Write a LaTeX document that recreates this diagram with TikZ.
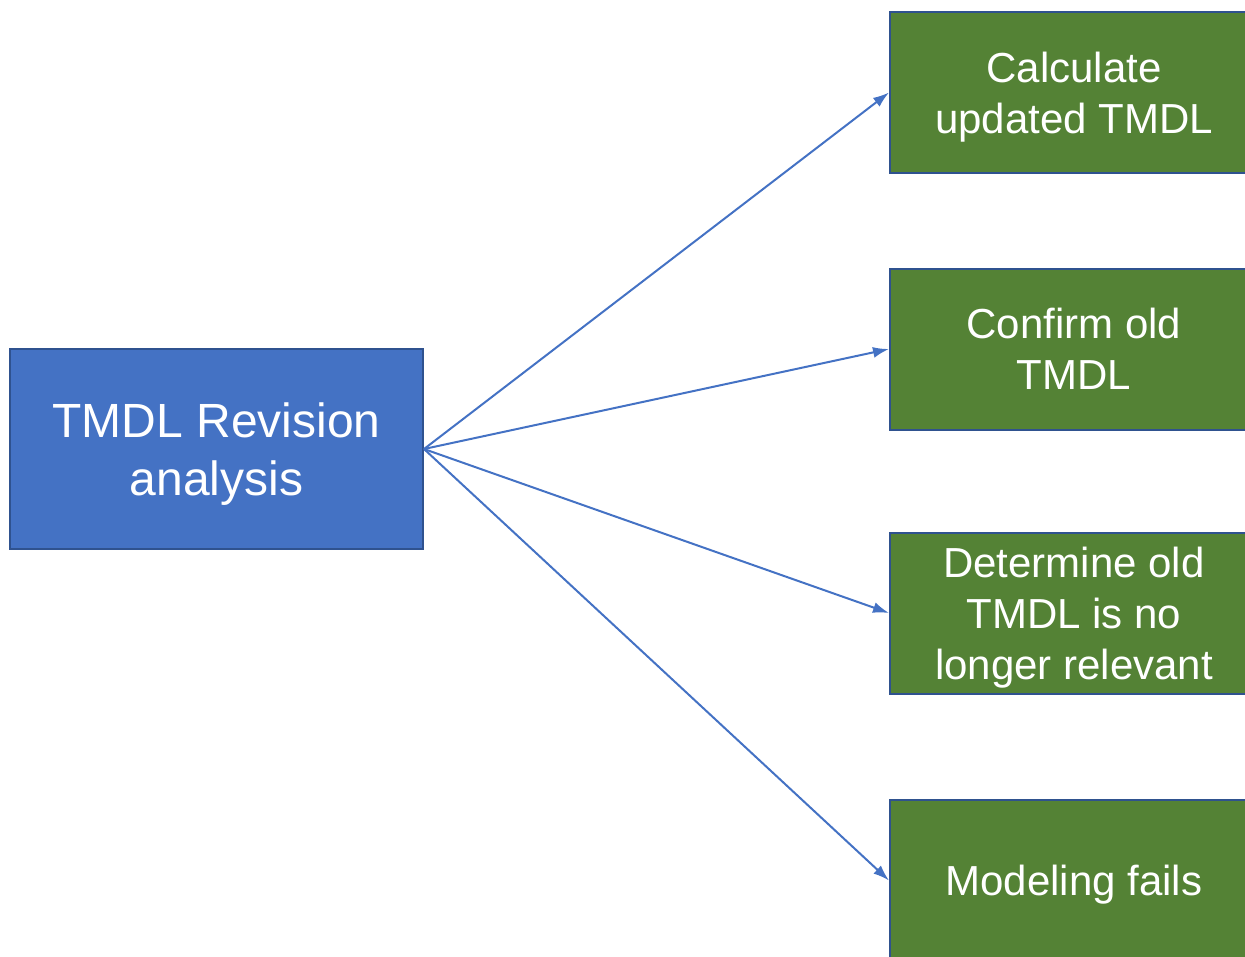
\documentclass[tikz,border=0pt]{standalone}
\usepackage{fontspec}
\setmainfont{Liberation Sans}
\usepackage{tikz}
\usetikzlibrary{arrows.meta}
\definecolor{boxblue}{HTML}{4472C4}
\definecolor{boxgreen}{HTML}{548235}
\definecolor{edgeblue}{HTML}{2F528F}

\begin{document}
\begin{tikzpicture}[x=1pt, y=-1pt, >={Latex[length=16pt,width=11pt]},
  mainbox/.style={draw=edgeblue, line width=2pt, fill=boxblue, text=white,
    minimum width=413pt, minimum height=200pt, align=center, text depth=0pt,
    font=\fontsize{48}{58}\selectfont},
  resultbox/.style={draw=edgeblue, line width=2pt, fill=boxgreen, text=white,
    minimum width=368pt, minimum height=161pt, align=center, text depth=0pt,
    font=\fontsize{42}{51}\selectfont}]
  \useasboundingbox (0,0) rectangle (1245,956);
  \node [mainbox] (revision) at (216.5,449) {TMDL Revision\\analysis};
  \node [resultbox] (update) at (1074,92.5) {Calculate\\updated TMDL};
  \node [resultbox] (confirm) at (1074,349) {Confirm old\\TMDL};
  \node [resultbox] (irrelevant) at (1074,613) {Determine old\\TMDL is no\\longer relevant};
  \node [resultbox] (fails) at (1074,880.5) {Modeling fails};
  \foreach \target in {update, confirm, irrelevant, fails}
    \draw [->, boxblue, line width=2pt] (revision.east) -- (\target.west);
\end{tikzpicture}
\end{document}
